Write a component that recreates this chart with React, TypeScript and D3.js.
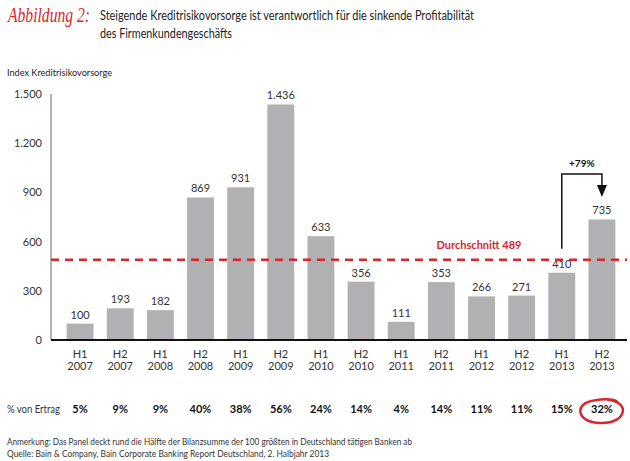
import React from "react";
import * as d3 from "d3";

const categories = ["H1 2007","H2 2007","H1 2008","H2 2008","H1 2009","H2 2009","H1 2010","H2 2010","H1 2011","H2 2011","H1 2012","H2 2012","H1 2013","H2 2013"];
const values = [100,193,182,869,931,1436,633,356,111,353,266,271,410,735];
const valueLabels = ["100","193","182","869","931","1.436","633","356","111","353","266","271","410","735"];
const percentOfRevenue = ["5%","9%","9%","40%","38%","56%","24%","14%","4%","14%","11%","11%","15%","32%"];
const yTicks = [0,300,600,900,1200,1500];
const yTickLabels = ["0","300","600","900","1.200","1.500"];
const average = 489;

const W = 630, H = 461;
const FONT = "Lato, 'Open Sans', sans-serif";
const RED = "#d9262c";

export default function App() {
  const x = d3.scaleBand<string>().domain(categories).range([60, 622]).paddingInner(0.33).paddingOuter(0.165);
  const y = d3.scaleLinear().domain([0, 1500]).range([340, 94]);
  const bw = x.bandwidth();
  const cx = (i: number) => (x(categories[i]) as number) + bw / 2;
  const i1 = 12, i2 = 13;
  const arrowTop = 174;
  return (
    <svg width={W} height={H} style={{ position: "absolute", left: 0, top: 0, background: "#fff" }} fontFamily={FONT}>
      {/* title */}
      <text x={8} y={22} fill={RED} fontFamily="'Liberation Serif', serif" fontStyle="italic" fontSize={20} textLength={82} lengthAdjust="spacingAndGlyphs">Abbildung 2:</text>
      <text x={100} y={20} fill="#222" fontSize={14} textLength={374} lengthAdjust="spacingAndGlyphs">Steigende Kreditrisikovorsorge ist verantwortlich für die sinkende Profitabilität</text>
      <text x={100} y={38} fill="#222" fontSize={14} textLength={132} lengthAdjust="spacingAndGlyphs">des Firmenkundengeschäfts</text>
      <text x={7} y={76} fill="#222" fontSize={10} textLength={105} lengthAdjust="spacingAndGlyphs">Index Kreditrisikovorsorge</text>

      {/* y axis */}
      <line x1={51} x2={51} y1={y(1500)} y2={y(0)} stroke="#999" strokeWidth={1.5} />
      {yTicks.map((t, i) => (
        <text key={t} x={42} y={y(t) + 4} textAnchor="end" fill="#333" fontSize={11}>{yTickLabels[i]}</text>
      ))}

      {/* bars */}
      {values.map((v, i) => (
        <g key={i}>
          <rect x={x(categories[i])} y={y(v)} width={bw} height={y(0) - y(v)} fill="#b1b1b3" />
          <text x={cx(i)} y={y(v) - 5} textAnchor="middle" fill="#333" fontSize={11}>{valueLabels[i]}</text>
          <text x={cx(i)} y={358} textAnchor="middle" fill="#333" fontSize={11}>{categories[i].split(" ")[0]}</text>
          <text x={cx(i)} y={370} textAnchor="middle" fill="#333" fontSize={11}>{categories[i].split(" ")[1]}</text>
          <text x={cx(i)} y={413} textAnchor="middle" fill="#111" fontSize={11} fontWeight="bold">{percentOfRevenue[i]}</text>
        </g>
      ))}
      <line x1={51} x2={627} y1={y(0)} y2={y(0)} stroke="#111" strokeWidth={2} />

      {/* average */}
      <line x1={51} x2={627} y1={y(average)} y2={y(average)} stroke={RED} strokeWidth={2.5} strokeDasharray="8,6" />
      <text x={479} y={249} textAnchor="middle" fill={RED} fontSize={11} fontWeight="bold">Durchschnitt {average}</text>

      {/* growth arrow */}
      <path d={`M${cx(i1)},${y(values[i1]) - 24} V${arrowTop} H${cx(i2)} V${186}`} fill="none" stroke="#111" strokeWidth={1.5} />
      <path d={`M${cx(i2) - 5},${185} L${cx(i2) + 5},${185} L${cx(i2)},${197} Z`} fill="#111" />
      <text x={(cx(i1) + cx(i2)) / 2} y={167} textAnchor="middle" fill="#111" fontSize={10} fontWeight="bold">+79%</text>

      {/* percent row */}
      <text x={7} y={413} fill="#333" fontSize={11} textLength={53} lengthAdjust="spacingAndGlyphs">% von Ertrag</text>
      <path d={`M${cx(i2) + 6},${400} C${cx(i2) + 28},${401} ${cx(i2) + 26},${424} ${cx(i2) - 2},${423} C${cx(i2) - 26},${422.5} ${cx(i2) - 28},${403} ${cx(i2) - 8},${400.5} C${cx(i2) - 2},${399.5} ${cx(i2) + 10},${398.5} ${cx(i2) + 15},${401.5}`} fill="none" stroke={RED} strokeWidth={2.5} strokeLinecap="round" />

      {/* notes */}
      <text x={7} y={445} fill="#333" fontSize={10} textLength={405} lengthAdjust="spacingAndGlyphs">Anmerkung: Das Panel deckt rund die Hälfte der Bilanzsumme der 100 größten in Deutschland tätigen Banken ab</text>
      <text x={7} y={457} fill="#333" fontSize={10} textLength={322} lengthAdjust="spacingAndGlyphs">Quelle: Bain &amp; Company, Bain Corporate Banking Report Deutschland, 2. Halbjahr 2013</text>
    </svg>
  );
}
